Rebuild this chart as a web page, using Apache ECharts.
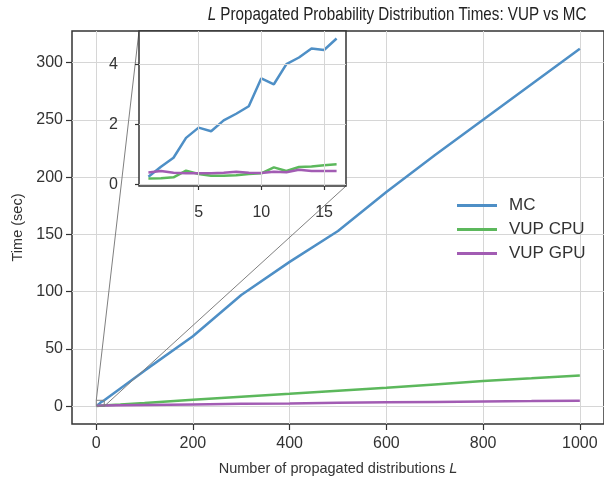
<!DOCTYPE html>
<html>
<head>
<meta charset="utf-8">
<script src="https://cdn.jsdelivr.net/npm/echarts@6/dist/echarts.min.js"></script>
<style>
  html, body { margin: 0; padding: 0; background: #fff; }
  #chart { width: 604px; height: 481px; }
</style>
</head>
<body>
<div id="chart"></div>
<script>
var FONT = "'Liberation Sans', Arial, sans-serif";

// number of propagated distributions L
var lValues = [1, 2, 3, 4, 5, 6, 7, 8, 9, 10, 11, 12, 13, 14, 15, 16,
               50, 100, 200, 300, 400, 500, 600, 700, 800, 900, 1000];
// times (sec)
var mcTimes = [0.26, 0.59, 0.89, 1.55, 1.89, 1.77, 2.13, 2.35, 2.6, 3.53, 3.33, 4.0, 4.22, 4.52, 4.47, 4.85,
               15.5, 31, 61, 97, 126, 153, 187, 219, 250, 281, 312];
var cpuTimes = [0.2, 0.21, 0.24, 0.46, 0.35, 0.29, 0.29, 0.31, 0.35, 0.37, 0.57, 0.45, 0.58, 0.6, 0.64, 0.67,
                1.5, 2.8, 5.5, 8.2, 10.8, 13.5, 16, 19, 22, 24.3, 26.8];
var gpuTimes = [0.4, 0.45, 0.39, 0.37, 0.37, 0.37, 0.39, 0.42, 0.39, 0.38, 0.42, 0.41, 0.49, 0.45, 0.45, 0.45,
                0.7, 1.0, 1.5, 2.0, 2.4, 2.9, 3.3, 3.7, 4.1, 4.4, 4.8];
var seriesNames = ["MC", "VUP CPU", "VUP GPU"];
var colors = ["#4e8fc6", "#5cb85c", "#a25cb3"];

var mainXTicks = [0, 200, 400, 600, 800, 1000];
var mainYTicks = [0, 50, 100, 150, 200, 250, 300];
var insetXTicks = [5, 10, 15];
var insetYTicks = [0, 2, 4];
var insetCount = 16;

var mainRange = { x: [-49.95, 1049.95], y: [-15.6, 327.6] };
var insetRange = { x: [0.25, 16.75], y: [-0.05, 5.1] };

function pairs(xs, ys, n) {
  var out = [];
  for (var i = 0; i < (n || xs.length); i++) {
    out.push([xs[i], ys[i]]);
  }
  return out;
}

var allTimes = [mcTimes, cpuTimes, gpuTimes];

var tickStyle = { color: "#333", width: 1.2 };
var labelStyle = {
  color: "#333", fontSize: 16, fontFamily: FONT,
  formatter: function(v) { return String(v); }
};
var hiddenLine = { show: false, onZero: false };

var series = [];
allTimes.forEach(function(times, i) {
  series.push({
    name: seriesNames[i],
    type: "line",
    xAxisIndex: 0,
    yAxisIndex: 0,
    data: pairs(lValues, times),
    symbol: "none",
    color: colors[i],
    lineStyle: { width: 2.5, color: colors[i] },
    z: 3
  });
});
allTimes.forEach(function(times, i) {
  series.push({
    name: seriesNames[i] + " (inset)",
    type: "line",
    xAxisIndex: 1,
    yAxisIndex: 1,
    data: pairs(lValues, times, insetCount),
    symbol: "none",
    color: colors[i],
    lineStyle: { width: 2.5, color: colors[i] },
    zlevel: 1,
    z: 5
  });
});

var option = {
  animation: false,
  backgroundColor: "#fff",
  legend: {
    data: seriesNames,
    orient: "vertical",
    left: 452,
    top: 192,
    icon: "rect",
    itemWidth: 40,
    itemHeight: 3,
    itemGap: 7,
    textStyle: { color: "#333", fontSize: 17, fontFamily: FONT, padding: [0, 0, 0, 7] }
  },
  grid: [
    {
      left: 72, top: 31, width: 533, height: 397,
      show: true, borderColor: "#333", borderWidth: 1.5, backgroundColor: "#fff"
    },
    {
      left: 139, top: 31, width: 207, height: 155,
      show: true, borderColor: "#333", borderWidth: 1.5, backgroundColor: "#fff",
      zlevel: 1, z: 4
    }
  ],
  xAxis: [
    {
      type: "value", gridIndex: 0,
      min: mainRange.x[0], max: mainRange.x[1],
      name: "Number of propagated distributions {i|L}",
      nameLocation: "middle", nameGap: 37,
      nameTextStyle: {
        color: "#333", fontSize: 14.5, fontFamily: FONT,
        rich: { i: { fontStyle: "italic", fontSize: 14.5, fontFamily: FONT, color: "#333" } }
      },
      axisLine: hiddenLine,
      axisTick: { show: true, length: 6, lineStyle: tickStyle, customValues: mainXTicks },
      axisLabel: Object.assign({ margin: 12, customValues: mainXTicks }, labelStyle),
      splitLine: { show: true, lineStyle: { color: "#d6d6d6", width: 1 } }
    },
    {
      type: "value", gridIndex: 1,
      min: insetRange.x[0], max: insetRange.x[1],
      zlevel: 1, z: 6,
      axisLine: hiddenLine,
      axisTick: { show: true, length: 4, lineStyle: tickStyle, customValues: insetXTicks },
      axisLabel: Object.assign({ margin: 19, customValues: insetXTicks }, labelStyle),
      splitLine: { show: true, lineStyle: { color: "#d6d6d6", width: 1 } }
    }
  ],
  yAxis: [
    {
      type: "value", gridIndex: 0,
      min: mainRange.y[0], max: mainRange.y[1],
      name: "Time (sec)",
      nameLocation: "middle", nameGap: 47,
      nameTextStyle: { color: "#333", fontSize: 14.5, fontFamily: FONT },
      axisLine: hiddenLine,
      axisTick: { show: true, length: 6, lineStyle: tickStyle, customValues: mainYTicks },
      axisLabel: Object.assign({ margin: 9, customValues: mainYTicks }, labelStyle),
      splitLine: { show: true, lineStyle: { color: "#d6d6d6", width: 1 } }
    },
    {
      type: "value", gridIndex: 1,
      min: insetRange.y[0], max: insetRange.y[1],
      zlevel: 1, z: 6,
      axisLine: hiddenLine,
      axisTick: { show: true, length: 4, lineStyle: tickStyle, customValues: insetYTicks },
      axisLabel: Object.assign({ margin: 21, customValues: insetYTicks }, labelStyle),
      splitLine: { show: true, lineStyle: { color: "#d6d6d6", width: 1 } }
    }
  ],
  series: series
};

var myChart = echarts.init(document.getElementById("chart"), null, { renderer: "canvas" });
myChart.setOption(option);

// inset marker: box on the main axes + two connector lines (upper-left and lower-right corners)
var mainIdx = { xAxisIndex: 0, yAxisIndex: 0 };
var insetIdx = { xAxisIndex: 1, yAxisIndex: 1 };
var boxTL = myChart.convertToPixel(mainIdx, [insetRange.x[0], insetRange.y[1]]);
var boxBR = myChart.convertToPixel(mainIdx, [insetRange.x[1], insetRange.y[0]]);
var insTL = myChart.convertToPixel(insetIdx, [insetRange.x[0], insetRange.y[1]]);
var insBR = myChart.convertToPixel(insetIdx, [insetRange.x[1], insetRange.y[0]]);
var grayLine = { stroke: "#808080", lineWidth: 1, fill: null };

myChart.setOption({
  graphic: [
    {
      // title, drawn slightly condensed like the original
      type: "text", x: 397, y: 5, scaleX: 0.8,
      style: {
        text: "{i|L} Propagated Probability Distribution Times: VUP vs MC",
        fill: "#222", fontSize: 19, fontFamily: FONT, align: "center", verticalAlign: "top",
        rich: { i: { fontStyle: "italic", fontSize: 19, fontFamily: FONT, fill: "#222" } }
      }
    },
    {
      type: "rect", z: 10,
      shape: { x: boxTL[0], y: boxTL[1], width: boxBR[0] - boxTL[0], height: boxBR[1] - boxTL[1] },
      style: grayLine
    },
    {
      type: "line", z: 10,
      shape: { x1: insTL[0], y1: insTL[1], x2: boxTL[0], y2: boxTL[1] },
      style: grayLine
    },
    {
      type: "line", z: 10,
      shape: { x1: insBR[0], y1: insBR[1], x2: boxBR[0], y2: boxBR[1] },
      style: grayLine
    }
  ]
});
</script>
</body>
</html>
